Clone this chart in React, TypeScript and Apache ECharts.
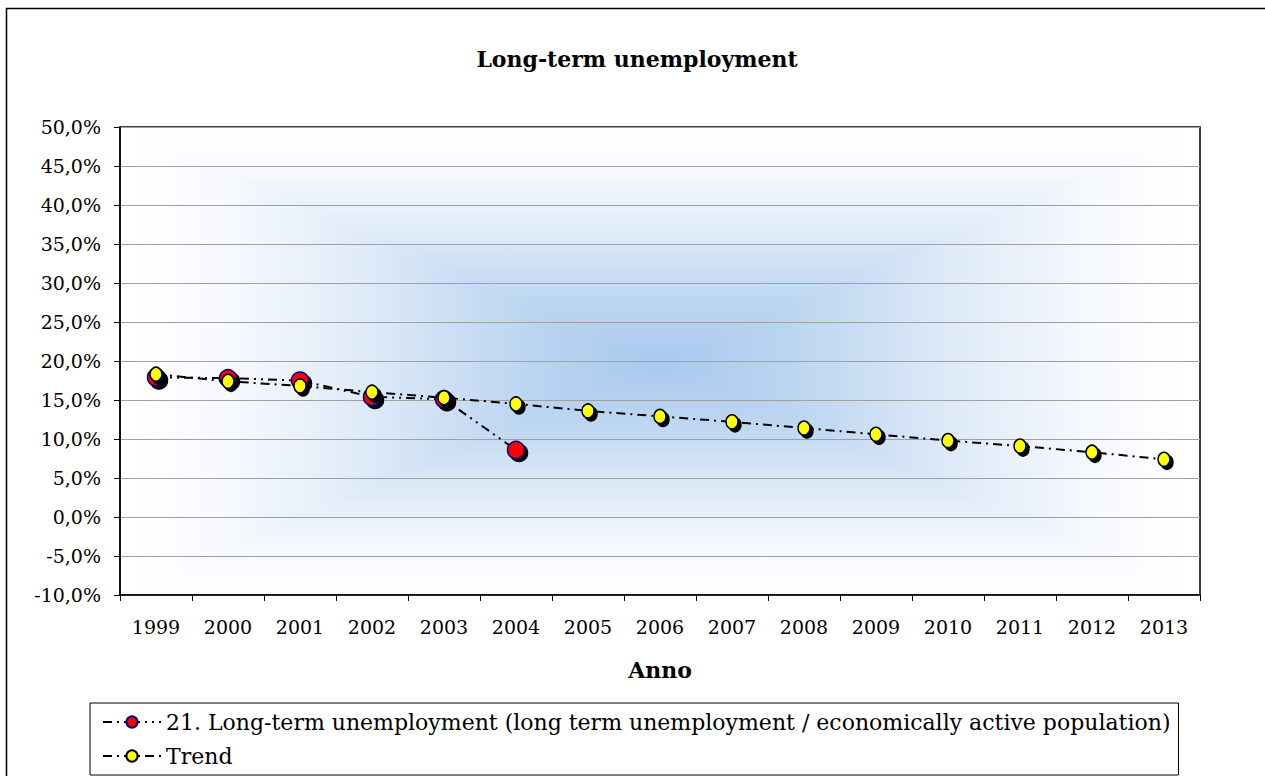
import React, { useEffect, useRef } from "react";
import * as echarts from "echarts";

const years = ["1999","2000","2001","2002","2003","2004","2005","2006","2007","2008","2009","2010","2011","2012","2013"];
const ltuValues = [17.9, 17.8, 17.5, 15.4, 15.1, 8.6];
const trendValues = [18.3, 17.4, 16.8, 16.0, 15.3, 14.5, 13.6, 12.9, 12.2, 11.4, 10.6, 9.8, 9.1, 8.3, 7.4];
const seriesNames = [
  "21. Long-term unemployment (long term unemployment / economically active population)",
  "Trend",
];
const titleText = "Long-term unemployment";
const xAxisName = "Anno";

const FONT = "'DejaVu Serif', serif";

const GL = 120, GR = 1200, GT = 127, GB = 595;
const CX = (GL + GR) / 2, CY = (GT + GB) / 2;

const stops = (dir: number[]) =>
  new echarts.graphic.LinearGradient(dir[0], dir[1], dir[2], dir[3], [
    { offset: 0, color: "#FFFFFF" },
    { offset: 0.2, color: "#F6F9FD" },
    { offset: 0.44, color: "#E0EBF8" },
    { offset: 0.74, color: "#BDD6F1" },
    { offset: 1, color: "#A8C9EE" },
  ]);

const tri = (pts: number[][], dir: number[]) => ({
  type: "polygon",
  shape: { points: pts },
  style: { fill: stops(dir), stroke: stops(dir), lineWidth: 0.6 },
  silent: true,
  z: -5,
});

export default function App() {
  const ref = useRef<HTMLDivElement>(null);
  useEffect(() => {
    const chart = echarts.init(ref.current!, null, { renderer: "svg" });
    chart.setOption({
      animation: false,
      backgroundColor: "#fff",
      textStyle: { fontFamily: FONT },
      title: {
        text: titleText,
        left: 632,
        textAlign: "center",
        top: 43,
        textStyle: { fontFamily: FONT, fontWeight: "bold", fontSize: 22, color: "#000" },
      },
      graphic: [
        {
          type: "rect",
          shape: { x: 6.5, y: 8.5, width: 1300, height: 800 },
          style: { fill: "none", stroke: "#000", lineWidth: 1.5 },
          silent: true,
          z: -10,
        },
        tri([[GL, GT], [GR, GT], [CX, CY]], [0, 0, 0, 1]),
        tri([[GL, GB], [GR, GB], [CX, CY]], [0, 1, 0, 0]),
        tri([[GL, GT], [GL, GB], [CX, CY]], [0, 0, 1, 0]),
        tri([[GR, GT], [GR, GB], [CX, CY]], [1, 0, 0, 0]),
      ],
      grid: {
        left: GL,
        right: 1265 - GR,
        top: GT,
        bottom: 776 - GB,
        show: true,
        borderColor: "#000",
        borderWidth: 1.5,
        backgroundColor: "transparent",
      },
      legend: {
        orient: "vertical",
        left: 90,
        top: 703,
        padding: [8, 8, 8, 12],
        borderColor: "#000",
        borderWidth: 1,
        itemWidth: 58,
        itemHeight: 14,
        itemGap: 12,
        data: seriesNames,
        textStyle: { fontFamily: FONT, fontSize: 22, color: "#000" },
      },
      xAxis: {
        type: "category",
        data: years,
        boundaryGap: true,
        name: xAxisName,
        nameLocation: "middle",
        nameGap: 64,
        nameTextStyle: { fontFamily: FONT, fontWeight: "bold", fontSize: 22, color: "#000" },
        axisLine: { onZero: false, lineStyle: { color: "#000", width: 1.5 } },
        axisTick: { show: true, length: 6, lineStyle: { color: "#000" } },
        axisLabel: { fontFamily: FONT, fontSize: 19, color: "#000", margin: 22 },
        splitLine: { show: false },
      },
      yAxis: {
        type: "value",
        min: -10,
        max: 50,
        interval: 5,
        axisLine: { show: true, lineStyle: { color: "#000", width: 1.5 } },
        axisTick: { show: true, length: 6, lineStyle: { color: "#000" } },
        axisLabel: {
          fontFamily: FONT,
          fontSize: 19,
          color: "#000",
          margin: 19,
          formatter: (v: number) => v.toFixed(1).replace(".", ",") + "%",
        },
        splitLine: { show: true, lineStyle: { color: "#A0A0A0", width: 1 } },
      },
      series: [
        {
          name: seriesNames[0],
          type: "line",
          data: ltuValues,
          symbol: "circle",
          symbolSize: 17,
          z: 3,
          lineStyle: { color: "#000", width: 2, type: [9, 5, 2, 5, 2, 5] },
          itemStyle: {
            color: "#FF0000",
            borderColor: "#000080",
            borderWidth: 1.5,
            shadowColor: "#000",
            shadowOffsetX: 3,
            shadowOffsetY: 3,
            shadowBlur: 0,
          },
        },
        {
          name: seriesNames[1],
          type: "line",
          data: trendValues,
          symbol: "circle",
          symbolSize: [12, 14],
          z: 4,
          lineStyle: { color: "#000", width: 2, type: [9, 5, 2, 5] },
          itemStyle: {
            color: "#FFFF00",
            borderColor: "#000",
            borderWidth: 1.5,
            shadowColor: "#000",
            shadowOffsetX: 3,
            shadowOffsetY: 3,
            shadowBlur: 0,
          },
        },
      ],
    });
    return () => chart.dispose();
  }, []);
  return (
    <div
      ref={ref}
      style={{ position: "absolute", left: 0, top: 0, width: 1265, height: 776 }}
    />
  );
}
